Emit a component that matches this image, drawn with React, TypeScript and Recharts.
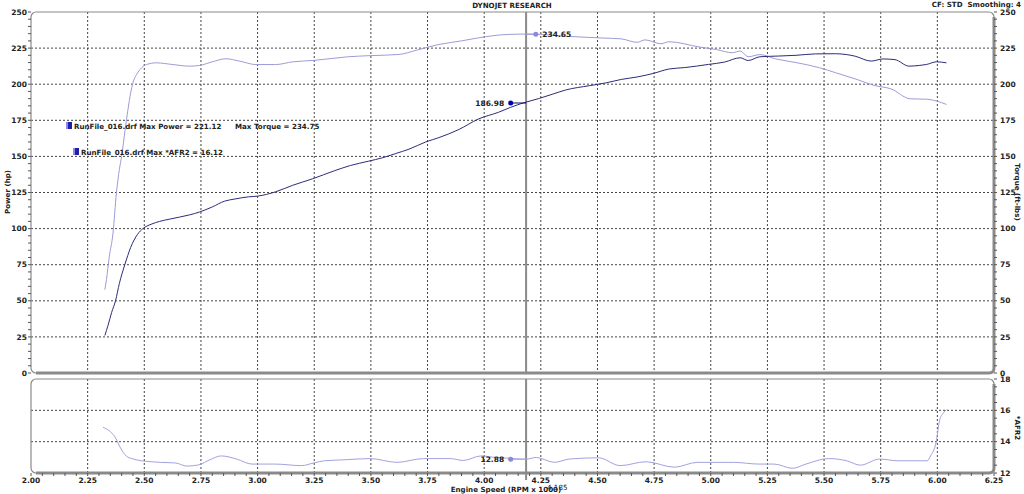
import React from "react"
import {
  LineChart, Line, XAxis, YAxis, CartesianGrid,
  ReferenceLine, ReferenceDot, ReferenceArea,
} from "recharts"

const FONT = "'DejaVu Sans', Verdana, sans-serif"
const FS = 7.5

// engine speed in RPM x 1000
const powerRpm = [2.326, 2.34, 2.356, 2.373, 2.39, 2.414, 2.44, 2.47, 2.494, 2.53, 2.568, 2.61, 2.656, 2.7, 2.744, 2.8, 2.854, 2.9, 2.96, 3.0, 3.08, 3.155, 3.243, 3.338, 3.41, 3.49, 3.55, 3.61, 3.668, 3.742, 3.8, 3.888, 3.976, 4.064, 4.117, 4.174, 4.24, 4.3, 4.36, 4.465, 4.54, 4.605, 4.675, 4.745, 4.815, 4.885, 4.99, 5.06, 5.13, 5.165, 5.217, 5.3, 5.376, 5.463, 5.55, 5.6, 5.637, 5.708, 5.76, 5.813, 5.875, 5.92, 5.953, 5.997, 6.04]
const powerHp = [26, 33, 42, 50, 62, 75, 87, 96, 100, 103, 105, 106.5, 108, 109.5, 111.5, 115, 119, 120.5, 122, 122.5, 125.5, 130, 134.5, 140, 143.7, 146.7, 149, 152, 155, 160, 163, 168.6, 176, 180.6, 184, 187.1, 190, 193, 196, 199, 201, 203.3, 205, 207.4, 210.5, 211.5, 213.7, 215.3, 218.3, 216.4, 219, 219.5, 220, 221, 221.1, 220.5, 219.4, 216, 217.5, 217, 212.5, 213, 213.7, 215.5, 214.8]

const torqueRpm = [2.326, 2.333, 2.345, 2.362, 2.377, 2.39, 2.4, 2.415, 2.428, 2.44, 2.45, 2.465, 2.48, 2.51, 2.553, 2.626, 2.7, 2.744, 2.8, 2.86, 2.92, 2.993, 3.08, 3.155, 3.25, 3.4, 3.5, 3.624, 3.7, 3.8, 3.9, 3.975, 4.097, 4.185, 4.25, 4.33, 4.41, 4.52, 4.605, 4.675, 4.71, 4.78, 4.815, 4.955, 5.025, 5.095, 5.13, 5.165, 5.217, 5.287, 5.376, 5.48, 5.55, 5.637, 5.725, 5.795, 5.88, 5.953, 6.04]
const torqueLbFt = [57.7, 64.7, 80, 97, 124.7, 141, 150, 168, 182.5, 194, 201, 206.5, 210, 213.6, 214.8, 213.6, 212.5, 213, 215.5, 217.6, 216, 213.6, 213.6, 215.5, 216.5, 219, 219.8, 220.6, 223.5, 227.5, 230, 232.1, 234.4, 234.7, 234.5, 233.5, 232.8, 232, 231.4, 229, 230.7, 228, 229.4, 225.6, 224, 221.8, 223, 219, 220.5, 217.5, 215, 211.4, 208, 203.7, 199, 196.8, 189.9, 189.6, 186]

const afrRpm = [2.318, 2.345, 2.369, 2.395, 2.42, 2.45, 2.487, 2.53, 2.571, 2.638, 2.689, 2.74, 2.79, 2.84, 2.908, 2.975, 3.076, 3.194, 3.25, 3.295, 3.38, 3.497, 3.615, 3.733, 3.851, 3.908, 3.986, 4.053, 4.1, 4.185, 4.23, 4.31, 4.376, 4.505, 4.6, 4.714, 4.84, 4.94, 5.1, 5.213, 5.28, 5.36, 5.42, 5.52, 5.6, 5.66, 5.745, 5.825, 5.955, 5.97, 5.995, 6.01, 6.025, 6.04]
const afrValues = [14.92, 14.7, 14.34, 13.6, 13.09, 12.9, 12.78, 12.72, 12.68, 12.64, 12.44, 12.52, 12.85, 13.09, 12.89, 12.57, 12.57, 12.47, 12.65, 12.78, 12.84, 12.92, 12.68, 12.92, 12.92, 12.8, 13.09, 12.99, 12.95, 12.88, 12.99, 12.68, 12.89, 12.97, 12.47, 12.72, 12.37, 12.68, 12.68, 12.57, 12.57, 12.3, 12.57, 12.92, 12.78, 12.5, 12.89, 12.78, 12.78, 13.09, 14.0, 15.37, 15.8, 16.04]

const rpmTicks = [2.0, 2.25, 2.5, 2.75, 3.0, 3.25, 3.5, 3.75, 4.0, 4.25, 4.5, 4.75, 5.0, 5.25, 5.5, 5.75, 6.0, 6.25]
const powerTicks = [0, 25, 50, 75, 100, 125, 150, 175, 200, 225, 250]
const afrTicks = [12, 14, 16, 18]

// cursor readout
const cursorRpm = 4.185
const cursorPower = 186.98
const cursorTorque = 234.65
const cursorAfr = 12.88
const markerLeftRpm = 4.117
const markerRightRpm = 4.228

const POWER_COLOR = "#2c2c7a"
const TORQUE_COLOR = "#9c9cd8"
const AFR_COLOR = "#a2a2de"
const FRAME = "#8a8a8a"

const toPoints = (xs: number[], ys: number[]) => xs.map((rpm, i) => ({ rpm, v: ys[i] }))
const powerData = toPoints(powerRpm, powerHp)
const torqueData = toPoints(torqueRpm, torqueLbFt)
const afrData = toPoints(afrRpm, afrValues)

// minor ticks between the labelled ones
const subdivide = (major: number[], parts: number) => {
  const out: number[] = []
  for (let i = 0; i < major.length - 1; i++) {
    for (let k = 0; k < parts; k++) {
      out.push(+(major[i] + ((major[i + 1] - major[i]) * k) / parts).toFixed(4))
    }
  }
  out.push(major[major.length - 1])
  return out
}
const rpmMinor = subdivide(rpmTicks, 5)
const powerMinor = subdivide(powerTicks, 5)
const afrMinor = subdivide(afrTicks, 4)

const isMajor = (v: number, list: number[]) => list.some(t => Math.abs(t - v) < 1e-6)

const txt = { fontFamily: FONT, fontSize: FS, fontWeight: 700, fill: "#222" }
const smallTxt = { ...txt, fontSize: 7.1 }

const Frame = (p: any) => {
  const { x, y, width, height } = p
  const r = 5
  const R = x + width
  const B = y + height
  return (
    <g>
      <rect x={x} y={y} width={width} height={height} rx={r} fill="none" stroke={FRAME} strokeWidth={1.2} />
      <path d={`M ${R} ${y + r} L ${R} ${B - r} Q ${R} ${B} ${R - r} ${B} L ${x + r} ${B}`}
        fill="none" stroke={FRAME} strokeWidth={3} />
    </g>
  )
}

const LeftTick = ({ x, y, payload }: any) =>
  isMajor(payload.value, powerTicks)
    ? <text x={x} y={y} dy="0.35em" textAnchor="end" style={txt}>{payload.value}</text>
    : <g />

const RightTick = ({ x, y, payload, ticks }: any) =>
  isMajor(payload.value, ticks)
    ? <text x={x} y={y} dy="0.35em" textAnchor="start" style={txt}>{payload.value}</text>
    : <g />

const RpmTick = ({ x, y, payload }: any) =>
  isMajor(payload.value, rpmTicks)
    ? <text x={x} y={y} dy="0.71em" textAnchor="middle" style={txt}>{payload.value.toFixed(2)}</text>
    : <g />

const CursorValue = (p: any) => {
  const vb = p.viewBox || {}
  const bottom = (vb.y || 0) + (vb.height || 0)
  return (
    <g>
      <line x1={vb.x} x2={vb.x} y1={bottom} y2={bottom + 7} stroke="#8a8a8a" strokeWidth={2} />
      <text x={vb.x + 21} y={bottom + 17} style={{ ...smallTxt, fontWeight: 400 }}>{cursorRpm}</text>
    </g>
  )
}

const gridProps = {
  stroke: "#444",
  strokeDasharray: "2 2",
  verticalValues: rpmTicks.slice(1, -1),
}

export default function App() {
  return (
    <div style={{ position: "absolute", left: 0, top: 0, width: 1024, height: 494, background: "#fff", fontFamily: FONT }}>
      <div style={{ position: "absolute", left: 0, top: 0 }}>
        <LineChart width={1024} height={380} margin={{ top: 12, right: 0, bottom: 7, left: 0 }}>
          <XAxis dataKey="rpm" type="number" domain={[2, 6.25]} ticks={rpmTicks} hide allowDataOverflow />
          <YAxis yAxisId="hp" type="number" domain={[0, 250]} ticks={powerMinor} interval={0} width={31}
            axisLine={false} tickLine={{ stroke: "#555" }} tickSize={3} tickMargin={1} tick={<LeftTick />} />
          <YAxis yAxisId="tq" orientation="right" type="number" domain={[0, 250]} ticks={powerMinor} interval={0} width={30}
            axisLine={false} tickLine={{ stroke: "#555" }} tickSize={3} tickMargin={3} tick={<RightTick ticks={powerTicks} />} />
          <CartesianGrid yAxisId="hp" {...gridProps} horizontalValues={powerTicks.slice(1, -1)} />
          <ReferenceArea yAxisId="hp" x1={2} x2={6.25} y1={0} y2={250} shape={(p: any) => <Frame {...p} />} />
          <ReferenceLine yAxisId="hp" x={cursorRpm} stroke="#8a8a8a" strokeWidth={2} />
          <Line yAxisId="tq" data={torqueData} dataKey="v" type="monotone" stroke={TORQUE_COLOR} strokeWidth={1} dot={false} isAnimationActive={false} />
          <Line yAxisId="hp" data={powerData} dataKey="v" type="monotone" stroke={POWER_COLOR} strokeWidth={1} dot={false} isAnimationActive={false} />
          <ReferenceLine yAxisId="hp" segment={[{ x: markerLeftRpm, y: cursorPower }, { x: cursorRpm, y: cursorPower }]} stroke="#101050" />
          <ReferenceLine yAxisId="tq" segment={[{ x: cursorRpm, y: cursorTorque }, { x: markerRightRpm, y: cursorTorque }]} stroke={TORQUE_COLOR} />
          <ReferenceDot yAxisId="hp" x={markerLeftRpm} y={cursorPower} r={2.5} fill="#0000b4" stroke="none"
            label={{ value: cursorPower.toFixed(2), position: "left", offset: 4, style: txt }} />
          <ReferenceDot yAxisId="tq" x={markerRightRpm} y={cursorTorque} r={2.5} fill="#8a8ad8" stroke="none"
            label={{ value: cursorTorque.toFixed(2), position: "right", offset: 4, style: txt }} />
        </LineChart>
      </div>

      <div style={{ position: "absolute", left: 0, top: 376 }}>
        <LineChart width={1024} height={118} margin={{ top: 3, right: 0, bottom: 0, left: 31 }}>
          <XAxis dataKey="rpm" type="number" domain={[2, 6.25]} ticks={rpmMinor} interval={0} height={21}
            axisLine={false} tickLine={{ stroke: "#555" }} tickSize={3} tickMargin={2} tick={<RpmTick />} allowDataOverflow />
          <YAxis yAxisId="afr" orientation="right" type="number" domain={[12, 18]} ticks={afrMinor} interval={0} width={30}
            axisLine={false} tickLine={{ stroke: "#555" }} tickSize={3} tickMargin={3} tick={<RightTick ticks={afrTicks} />} />
          <CartesianGrid yAxisId="afr" {...gridProps} horizontalValues={[14, 16]} />
          <ReferenceArea yAxisId="afr" x1={2} x2={6.25} y1={12} y2={18} shape={(p: any) => <Frame {...p} />} />
          <ReferenceLine yAxisId="afr" x={cursorRpm} stroke="#8a8a8a" strokeWidth={2} label={(p: any) => <CursorValue {...p} />} />
          <Line yAxisId="afr" data={afrData} dataKey="v" type="monotone" stroke={AFR_COLOR} strokeWidth={1} dot={false} isAnimationActive={false} />
          <ReferenceLine yAxisId="afr" segment={[{ x: markerLeftRpm, y: cursorAfr }, { x: cursorRpm, y: cursorAfr }]} stroke={AFR_COLOR} />
          <ReferenceDot yAxisId="afr" x={markerLeftRpm} y={cursorAfr} r={2.5} fill="#8a8ad8" stroke="none"
            label={{ value: cursorAfr.toFixed(2), position: "left", offset: 4, style: txt }} />
        </LineChart>
      </div>

      <svg width={1024} height={494} style={{ position: "absolute", left: 0, top: 0, pointerEvents: "none" }}>
        <text x={512} y={7.5} textAnchor="middle" style={smallTxt}>DYNOJET RESEARCH</text>
        <text x={1021} y={7} textAnchor="end" style={{ ...smallTxt, whiteSpace: "pre" }}>{"CF: STD  Smoothing: 4"}</text>

        <rect x={66} y={122} width={6} height={7} fill="#1e1ea8" />
        <rect x={66} y={122} width={2} height={7} fill="#8c8ce8" />
        <text x={74} y={129} style={smallTxt}>RunFile_016.drf Max Power = 221.12</text>
        <text x={235} y={129} style={smallTxt}>Max Torque = 234.75</text>

        <rect x={73} y={148} width={6} height={7} fill="#1e1ea8" />
        <rect x={73} y={148} width={2} height={7} fill="#8c8ce8" />
        <text x={81} y={155} style={smallTxt}>RunFile_016.drf Max *AFR2 = 16.12</text>

        <text transform="translate(10,192) rotate(-90)" textAnchor="middle" style={smallTxt}>Power (hp)</text>
        <text transform="translate(1015,192) rotate(90)" textAnchor="middle" style={smallTxt}>Torque (ft-lbs)</text>
        <text transform="translate(1015,428) rotate(90)" textAnchor="middle" style={smallTxt}>*AFR2</text>
        <text x={506} y={492} textAnchor="middle" style={smallTxt}>Engine Speed (RPM x 1000)</text>
      </svg>
    </div>
  )
}
